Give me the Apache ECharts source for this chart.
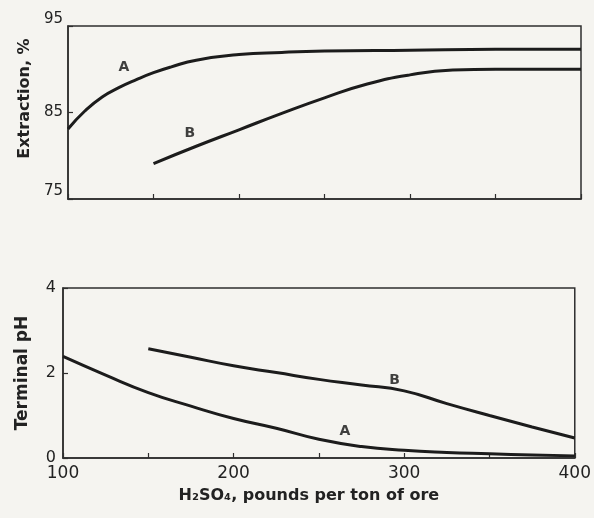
<!DOCTYPE html>
<html>
<head>
<meta charset="utf-8">
<script src="https://cdn.jsdelivr.net/npm/echarts@6/dist/echarts.min.js"></script>
<style>
html,body{margin:0;padding:0;background:#f5f4f0;}
#chart{width:594px;height:518px;}
</style>
</head>
<body>
<div id="chart"></div>
<script>
// ---- data ----
const acidX = [100, 150, 200, 250, 300, 350, 400]; // x-axis ticks (lb H2SO4 per ton ore)

// Upper panel: Extraction, %
const extrAX = [100, 110, 120, 130, 140, 150, 160, 175, 200, 225, 250, 300, 350, 400];
const extrAY = [83.1, 85.2, 86.8, 87.9, 88.8, 89.6, 90.25, 91.05, 91.7, 91.95, 92.1, 92.2, 92.3, 92.3];
const extrBX = [150, 175, 200, 225, 250, 275, 300, 325, 350, 375, 400];
const extrBY = [79.1, 81.1, 83.0, 84.9, 86.7, 88.3, 89.35, 89.9, 90.0, 90.0, 90.0];

// Lower panel: Terminal pH
const phAX = [100, 125, 150, 175, 200, 225, 250, 275, 300, 325, 350, 375, 400];
const phAY = [2.39, 1.95, 1.54, 1.22, 0.93, 0.70, 0.44, 0.27, 0.18, 0.13, 0.10, 0.07, 0.05];
const phBX = [150, 175, 200, 225, 250, 275, 300, 325, 350, 375, 400];
const phBY = [2.57, 2.37, 2.17, 2.01, 1.85, 1.72, 1.58, 1.28, 1.00, 0.73, 0.47];

// Curve tags and where they sit (data coordinates)
const curveNames = ['A', 'B'];
const extrTagX = [132.7, 171.3];
const extrTagY = [90.2, 82.6];
const phTagX = [265.2, 294.4];
const phTagY = [0.62, 1.83];

const extrTicks = [75, 85, 95];
const phTicks = [0, 2, 4];
const xLabelTicks = [100, 200, 300, 400];

// ---- chart ----
const ink = '#1c1c1c';
const frame = '#2e2e2e';
const zip = (xs, ys) => xs.map((x, i) => [x, ys[i]]);

const chart = echarts.init(document.getElementById('chart'), null, {renderer: 'canvas'});

function xAxisCfg(gi, showLabels) {
  return {
    type: 'value', gridIndex: gi, min: 100, max: 400, interval: 50,
    axisLine: {lineStyle: {color: frame, width: 1.5}},
    axisTick: {inside: true, length: 5, lineStyle: {color: frame, width: 1.2}},
    splitLine: {show: false},
    axisLabel: {
      show: showLabels, margin: 7, color: '#222', fontSize: 17,
      fontFamily: 'DejaVu Sans',
      formatter: v => xLabelTicks.includes(v) ? String(v) : ''
    },
    name: showLabels ? 'H\u2082SO\u2084, pounds per ton of ore' : '',
    nameLocation: 'middle', nameGap: 30,
    nameTextStyle: {color: '#222', fontSize: 16, fontWeight: 'bold', fontFamily: 'DejaVu Sans', padding: [0, 20, 0, 0]}
  };
}

function tagSeries(xi, yi, xs, ys) {
  return {
    type: 'scatter', xAxisIndex: xi, yAxisIndex: yi, symbolSize: 0, silent: true,
    data: xs.map((x, i) => ({value: [x, ys[i]], name: curveNames[i]})),
    label: {show: true, position: 'inside', formatter: p => p.name,
      color: '#111', fontSize: 14, fontWeight: 'bold', fontFamily: 'DejaVu Sans',
      textBorderWidth: 0}
  };
}

function curve(xi, yi, xs, ys) {
  return {
    type: 'line', xAxisIndex: xi, yAxisIndex: yi, data: zip(xs, ys),
    showSymbol: false, smooth: 0.5,
    lineStyle: {color: ink, width: 3}, silent: true
  };
}

chart.setOption({
  backgroundColor: '#f5f4f0',
  animation: false,
  grid: [
    {left: 68, top: 26, width: 513, height: 173, show: true, borderColor: frame, borderWidth: 1.5},
    {left: 63, top: 288, width: 514, height: 170, show: true, borderColor: frame, borderWidth: 1.5}
  ],
  xAxis: [xAxisCfg(0, false), xAxisCfg(1, true)],
  yAxis: [
    {
      type: 'value', gridIndex: 0, min: 75, max: 95, interval: 10,
      axisLine: {show: true, lineStyle: {color: frame, width: 1.5}},
      axisTick: {show: true, inside: true, length: 5, lineStyle: {color: frame, width: 1.2}},
      splitLine: {show: false},
      axisLabel: {
        margin: 5, color: '#222', fontSize: 15, fontFamily: 'DejaVu Sans',
        formatter: v => extrTicks.includes(v) ? (v === 85 ? '{m|' + v + '}' : (v === 95 ? '{t|' + v + '}' : '{b|' + v + '}')) : '',
        rich: {
          m: {fontSize: 15, color: '#222'},
          t: {fontSize: 15, color: '#222', padding: [0, 0, 14, 0]},
          b: {fontSize: 15, color: '#222', padding: [0, 0, 16, 0]}
        }
      },
      name: 'Extraction, %', nameLocation: 'middle', nameRotate: 90, nameGap: 34,
      nameTextStyle: {color: '#222', fontSize: 16, fontWeight: 'bold', fontFamily: 'DejaVu Sans', padding: [0, 0, 0, 28]}
    },
    {
      type: 'value', gridIndex: 1, min: 0, max: 4, interval: 2,
      axisLine: {show: true, lineStyle: {color: frame, width: 1.5}},
      axisTick: {show: true, inside: true, length: 5, lineStyle: {color: frame, width: 1.2}},
      splitLine: {show: false},
      axisLabel: {
        margin: 7, color: '#222', fontSize: 16, fontFamily: 'DejaVu Sans',
        formatter: v => phTicks.includes(v) ? String(v) : ''
      },
      name: 'Terminal pH', nameLocation: 'middle', nameRotate: 90, nameGap: 32,
      nameTextStyle: {color: '#222', fontSize: 17, fontWeight: 'bold', fontFamily: 'DejaVu Sans'}
    }
  ],
  series: [
    curve(0, 0, extrAX, extrAY),
    curve(0, 0, extrBX, extrBY),
    curve(1, 1, phAX, phAY),
    curve(1, 1, phBX, phBY),
    tagSeries(0, 0, extrTagX, extrTagY),
    tagSeries(1, 1, phTagX, phTagY)
  ]
});
</script>
</body>
</html>
